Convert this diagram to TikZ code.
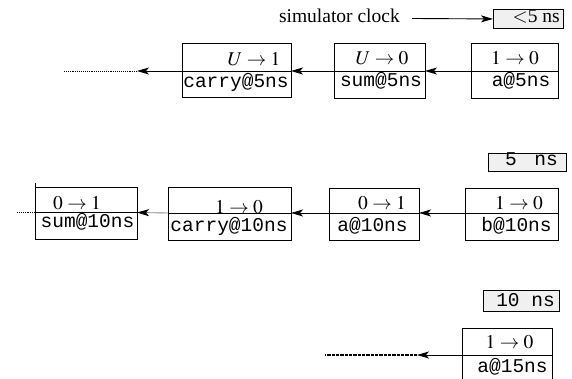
\documentclass[tikz,border=0pt]{standalone}
\usepackage{mathptmx}
\usepackage{fontspec}
\setmainfont{Liberation Serif}
\setmonofont{Liberation Mono}
\usetikzlibrary{arrows.meta}
\begin{document}
\begin{tikzpicture}[x=1pt,y=-1pt,
  box/.style={draw, line width=0.9pt, inner sep=0pt, anchor=north west},
  clk/.style={draw, line width=0.9pt, fill=black!6, inner sep=0pt, anchor=north west},
  mth/.style={font=\fontsize{19.5}{21}\selectfont, inner sep=0pt, anchor=base},
  mono/.style={font=\fontsize{19.5}{21}\selectfont\ttfamily, inner sep=0pt, anchor=base},
  rm/.style={font=\fontsize{19.5}{21}\selectfont, inner sep=0pt, anchor=base east},
  divl/.style={line width=0.9pt},
  tip/.style={-{Stealth[length=12pt,width=7pt,inset=3pt,black]}},
  arr/.style={line width=0.9pt, tip},
  fine dots/.style={line width=0.9pt, densely dotted},
  thick dots/.style={line width=1.5pt, dash pattern=on 0.8pt off 0.5pt},
]
\useasboundingbox (0,0) rectangle (572,379);

% ---------- row 1 ----------
\node[rm] (simclk) at (400,23) {simulator clock};
\node[clk, minimum width=70pt, minimum height=19pt] (k1) at (493,9) {};
\node[rm] (k1t) at (560,23) {$<$5 ns};
\coordinate (ck0) at (412,18.5);
\draw[arr] (ck0) -- (k1.west);

\node[box, minimum width=87pt, minimum height=55pt] (a1) at (471,43) {};
\node[box, minimum width=91pt, minimum height=55pt] (s1) at (334,43) {};
\node[box, minimum width=109pt, minimum height=54pt] (c1) at (182,43.5) {};
\coordinate (a1L) at (471,71); \coordinate (a1R) at (558,71);
\coordinate (s1L) at (334,71); \coordinate (s1R) at (425,71);
\coordinate (c1L) at (182,71); \coordinate (c1R) at (291,71);
\draw[divl] (a1L) -- (a1R);
\draw[divl] (s1L) -- (s1R);
\draw[divl] (c1L) -- (c1R);
\node[mth] (a1a) at (515,65) {$1\rightarrow 0$};
\node[mono] (a1b) at (521,87) {a@5ns};
\node[mth] (s1a) at (382,65) {$U\rightarrow 0$};
\node[mono] (s1b) at (381,87) {sum@5ns};
\node[mth] (c1a) at (254,66) {$U\rightarrow 1$};
\node[mono] (c1b) at (236,88) {carry@5ns};
\coordinate (t1) at (137,71);
\coordinate (e1) at (63,71);
\draw[arr] (a1L) -- (s1R);
\draw[arr] (s1L) -- (c1R);
\draw[arr] (c1L) -- (t1);
\draw[fine dots] (t1) -- (e1);

% ---------- row 2 ----------
\node[clk, minimum width=78pt, minimum height=18pt] (k2) at (488,153) {};
\node[mono, anchor=base east] (k2t) at (558,166) {5\hspace{6pt} ns};

\node[box, minimum width=93pt, minimum height=52pt] (b2) at (465,188) {};
\node[box, minimum width=90pt, minimum height=52pt] (a2) at (329,188) {};
\node[box, minimum width=123pt, minimum height=53pt] (c2) at (168,187) {};
\node[box, minimum width=102pt, minimum height=52pt] (s2) at (35,187) {};
\coordinate (b2L) at (465,213); \coordinate (b2R) at (558,213);
\coordinate (a2L) at (329,213); \coordinate (a2R) at (419,213);
\coordinate (c2L) at (168,213); \coordinate (c2R) at (291,213);
\coordinate (s2L) at (35,212.5); \coordinate (s2R) at (137,212.5);
\coordinate (s2T) at (35,183);
\draw[divl] (b2L) -- (b2R);
\draw[divl] (a2L) -- (a2R);
\draw[divl] (c2L) -- (c2R);
\draw[divl] (s2L) -- (s2R);
\draw[divl] (s2.north west) -- (s2T);
\node[mth] (b2a) at (519,210) {$1\rightarrow 0$};
\node[mono] (b2b) at (516.5,231) {b@10ns};
\node[mth] (a2a) at (382,210) {$0\rightarrow 1$};
\node[mono] (a2b) at (372.5,231) {a@10ns};
\node[mth] (c2a) at (239,214) {$1\rightarrow 0$};
\node[mono] (c2b) at (229,231) {carry@10ns};
\node[mth] (s2a) at (77,210) {$0\rightarrow 1$};
\node[mono] (s2b) at (87.5,227) {sum@10ns};
\coordinate (e2) at (17,212.5);
\draw[arr] (b2L) -- (a2R);
\draw[arr] (a2L) -- (c2R);
\draw[arr, draw=black!45] (c2L) -- (s2R);
\draw[fine dots] (s2L) -- (e2);

% ---------- row 3 ----------
\node[clk, minimum width=76pt, minimum height=21pt] (k3) at (483,290) {};
\node[mono, anchor=base east] (k3t) at (555,306) {10 ns};

\node[box, minimum width=90pt, minimum height=56pt] (a3) at (462,328) {};
\coordinate (a3L) at (462,355); \coordinate (a3R) at (552,355);
\draw[divl] (a3L) -- (a3R);
\node[mth] (a3a) at (509.5,348) {$1\rightarrow 0$};
\node[mono] (a3b) at (512.5,372) {a@15ns};
\coordinate (t3) at (417,355);
\coordinate (e3) at (325,355);
\draw[arr] (a3L) -- (t3);
\draw[thick dots] (t3) -- (e3);
\end{tikzpicture}
\end{document}
